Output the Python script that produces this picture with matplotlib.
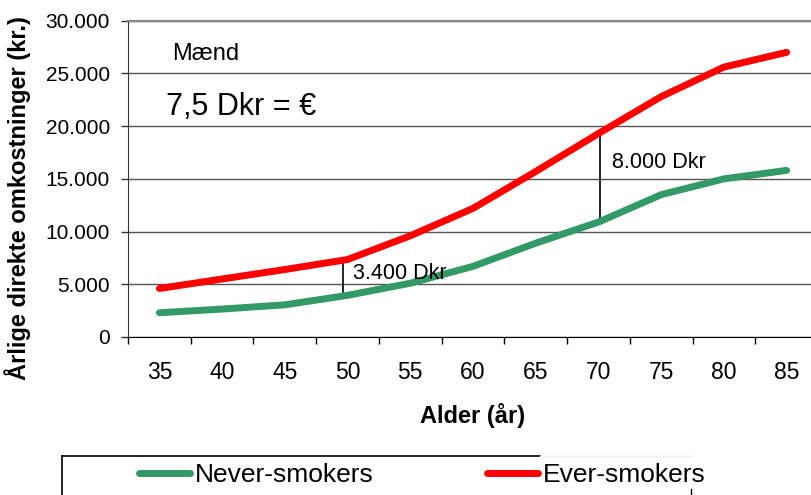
import matplotlib
matplotlib.use("Agg")
import matplotlib.pyplot as plt
from matplotlib.lines import Line2D
from matplotlib.ticker import FixedLocator, FuncFormatter

plt.rcParams['font.family'] = ['Liberation Sans', 'DejaVu Sans']

# data
ages = ['35', '40', '45', '50', '55', '60', '65', '70', '75', '80', '85']
never_smokers = [2300, 2650, 3050, 3950, 5100, 6700, 8900, 10900, 13500, 15000, 15800]
ever_smokers = [4600, 5500, 6400, 7350, 9600, 12200, 15700, 19300, 22800, 25600, 27000]
y_ticks = [0, 5000, 10000, 15000, 20000, 25000, 30000]

# difference markers (x as category index, y range in kr.)
gap_50 = (2.92, 4150, 7150)
gap_70 = (7.02, 10800, 19450)

W, H = 811, 495
fig = plt.figure(figsize=(W / 100, H / 100), dpi=100)
ax = fig.add_axes([128 / W, 1 - 337 / H, 690 / W, 316.3 / H])

x = list(range(len(ages)))
green, = ax.plot(x, never_smokers, color='#339966', lw=5, solid_capstyle='round',
                 label='Never-smokers', zorder=3)
red, = ax.plot(x, ever_smokers, color='#ff0000', lw=5, solid_capstyle='round',
               label='Ever-smokers', zorder=3)

ax.set_xlim(-0.5, len(ages) - 0.5)
ax.set_ylim(0, 30000)

# category axis: ticks between categories, labels at centres
ax.xaxis.set_major_locator(FixedLocator([i - 0.5 for i in range(len(ages) + 1)]))
ax.xaxis.set_major_formatter(FuncFormatter(lambda v, p: ''))
ax.xaxis.set_minor_locator(FixedLocator(x))
ax.set_xticklabels(ages, minor=True)
ax.tick_params(axis='x', which='major', direction='out', length=5, width=1, color='black')
ax.tick_params(axis='x', which='minor', length=0, pad=17, labelsize=16.5)

ax.set_yticks(y_ticks)
ax.yaxis.set_major_formatter(FuncFormatter(lambda v, p: f"{v:,.0f}".replace(',', '.')))
ax.tick_params(axis='y', direction='out', length=5, width=1, pad=8, labelsize=15, color='#333333')

ax.yaxis.grid(True, color='#555555', lw=1)
ax.set_axisbelow(True)
ax.spines['right'].set_visible(False)
ax.spines['top'].set_color('#888888')
ax.spines['top'].set_linewidth(1.6)
ax.spines['left'].set_color('#333333')
ax.spines['bottom'].set_color('black')

ax.set_xlabel('Alder (år)', fontsize=17, fontweight='bold', va='baseline')
ax.xaxis.set_label_coords(0.5, -(423 - 337) / 316.3)
ax.set_ylabel('Årlige direkte omkostninger (kr.)', fontsize=17, fontweight='bold', va='center')
ax.yaxis.set_label_coords(-110 / 690, (337 - 198) / 316.3)

# annotations
ax.plot([gap_50[0]] * 2, gap_50[1:], color='black', lw=1.2, zorder=2)
ax.plot([gap_70[0]] * 2, gap_70[1:], color='black', lw=1.2, zorder=2)
ax.text(3.09, 5500, '3.400 Dkr', fontsize=15.5, va='baseline')
ax.text(7.22, 16050, '8.000 Dkr', fontsize=15.5, va='baseline')
ax.text(0.21, 26300, 'Mænd', fontsize=17, va='baseline')
ax.text(0.11, 21050, '7,5 Dkr = €', fontsize=22, va='baseline')

# legend (box runs off the bottom of the picture)
fig.legend(handles=[green, red], loc='center left', ncol=2, frameon=False,
           bbox_to_anchor=(126 / W, 1 - 475 / H), fontsize=19, borderpad=0,
           handlelength=1.93, handletextpad=0.19, columnspacing=4.3)
fig.add_artist(Line2D([62 / W, 62 / W], [1 - 456 / H, 0], color='black', lw=1.2))
fig.add_artist(Line2D([62 / W, 540 / W], [1 - 456 / H, 1 - 456 / H], color='black', lw=1.2))
fig.add_artist(Line2D([540 / W, 691 / W], [1 - 456 / H, 1 - 456 / H], color='#eeeeee', lw=1))
fig.add_artist(Line2D([691 / W, 691 / W], [1 - 489 / H, 0], color='black', lw=1))

fig.savefig('out.png', dpi=100)
